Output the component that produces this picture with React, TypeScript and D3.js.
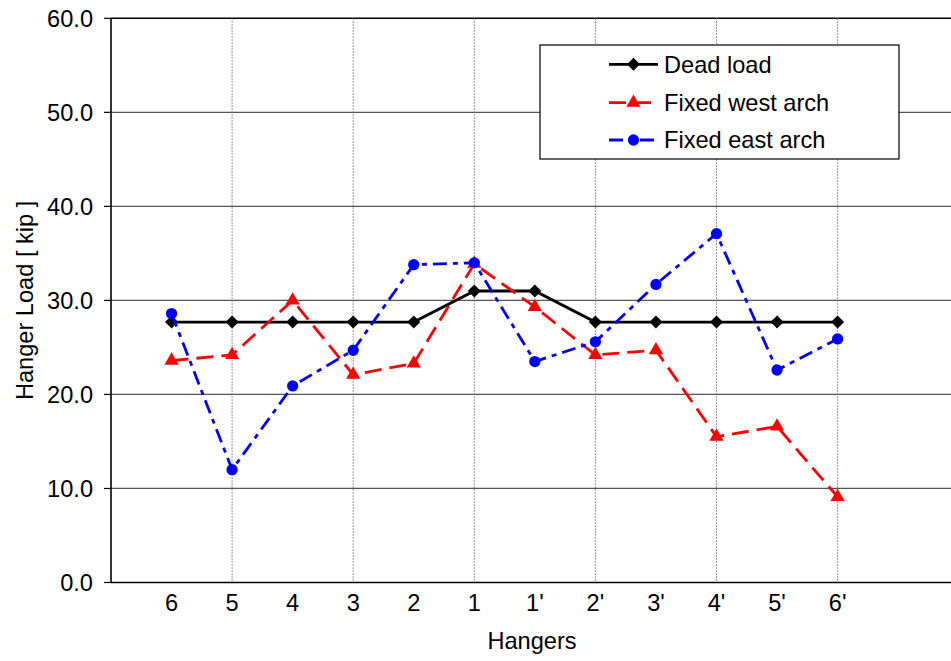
import React from "react";
import * as d3 from "d3";

const hangers = ["6", "5", "4", "3", "2", "1", "1'", "2'", "3'", "4'", "5'", "6'"];
const deadLoad = [27.7, 27.7, 27.7, 27.7, 27.7, 31.0, 31.0, 27.7, 27.7, 27.7, 27.7, 27.7];
const fixedWest = [23.6, 24.2, 30.0, 22.1, 23.3, 33.9, 29.3, 24.2, 24.7, 15.5, 16.6, 9.1];
const fixedEast = [28.6, 12.0, 20.9, 24.7, 33.8, 34.0, 23.5, 25.6, 31.7, 37.1, 22.6, 25.9];
const yTicks = [0, 10, 20, 30, 40, 50, 60];
const seriesNames = ["Dead load", "Fixed west arch", "Fixed east arch"];

const W = 951;
const H = 661;
const M = { left: 111, top: 18.3, bottom: 582.5 };
const FONT = "'Liberation Sans', Arial, sans-serif";
const FS = 23.6;

export default function App() {
  const x = d3.scaleLinear().domain([0, 14]).range([M.left, M.left + 14 * 60.55]);
  const y = d3.scaleLinear().domain([0, 60]).range([M.bottom, M.top]);
  const pos = hangers.map((_, i) => i + 1);
  const line = d3
    .line<number>()
    .x((_, i) => x(pos[i]))
    .y((d) => y(d));

  const series = [
    { name: seriesNames[0], values: deadLoad, color: "#000000", dash: null as string | null, symbol: d3.symbolSquare, size: 85, rotate: 45 },
    { name: seriesNames[1], values: fixedWest, color: "#FF0000", dash: "17,8", symbol: d3.symbolTriangle, size: 88, rotate: 0 },
    { name: seriesNames[2], values: fixedEast, color: "#0000FF", dash: "14,6,5,6", symbol: d3.symbolCircle, size: 100, rotate: 0 },
  ];

  const vGrid = pos.filter((p) => p % 2 === 0);
  const legend = { x: 540, y: 45, w: 359, h: 114, rowY: [64.3, 102.7, 140], lx0: 609, lx1: 658, tx: 664 };

  return (
    <div style={{ position: "absolute", left: 0, top: 0 }}>
      <svg width={W} height={H} style={{ display: "block", background: "#fff" }} fontFamily={FONT}>
        <rect x={0} y={0} width={W} height={H} fill="#fff" />
        {yTicks.map((t) => (
          <line
            key={"h" + t}
            x1={M.left}
            x2={W}
            y1={y(t)}
            y2={y(t)}
            stroke={t === 0 || t === 60 ? "#000" : "#555"}
            strokeWidth={t === 0 || t === 60 ? 1.6 : 1.2}
          />
        ))}
        {vGrid.map((p) => (
          <line
            key={"v" + p}
            x1={x(p)}
            x2={x(p)}
            y1={M.top}
            y2={M.bottom}
            stroke="#777"
            strokeWidth={1}
            strokeDasharray="1.5,1.5"
          />
        ))}
        <line x1={M.left} x2={M.left} y1={M.top} y2={M.bottom} stroke="#000" strokeWidth={1.6} />
        {yTicks.map((t) => (
          <g key={"yt" + t}>
            <line x1={M.left - 7} x2={M.left} y1={y(t)} y2={y(t)} stroke="#000" strokeWidth={1.2} />
            <text x={93} y={y(t)} dy="0.36em" textAnchor="end" fontSize={FS} fill="#000">
              {t.toFixed(1)}
            </text>
          </g>
        ))}
        {hangers.map((h, i) => (
          <text key={"xl" + i} x={x(pos[i])} y={611} textAnchor="middle" fontSize={FS} fill="#000">
            {h}
          </text>
        ))}
        <text x={532} y={649} textAnchor="middle" fontSize={FS} fill="#000">
          Hangers
        </text>
        <text
          transform={`translate(33, ${(M.top + M.bottom) / 2}) rotate(-90)`}
          textAnchor="middle"
          fontSize={FS}
          fill="#000"
        >
          Hanger Load [ kip ]
        </text>
        {series.map((s) => (
          <g key={s.name}>
            <path
              d={line(s.values) || ""}
              fill="none"
              stroke={s.color}
              strokeWidth={2.8}
              strokeDasharray={s.dash || undefined}
            />
            {s.values.map((v, i) => (
              <path
                key={i}
                d={d3.symbol().type(s.symbol).size(s.size)() || ""}
                transform={`translate(${x(pos[i])},${y(v)}) rotate(${s.rotate})`}
                fill={s.color}
              />
            ))}
          </g>
        ))}
        <rect x={legend.x} y={legend.y} width={legend.w} height={legend.h} fill="#fff" stroke="#000" strokeWidth={1.2} />
        {series.map((s, i) => (
          <g key={"lg" + i}>
            <line
              x1={legend.lx0}
              x2={legend.lx1}
              y1={legend.rowY[i]}
              y2={legend.rowY[i]}
              stroke={s.color}
              strokeWidth={2.8}
              strokeDasharray={s.dash || undefined}
            />
            <path
              d={d3.symbol().type(s.symbol).size(s.size)() || ""}
              transform={`translate(${(legend.lx0 + legend.lx1) / 2},${legend.rowY[i]}) rotate(${s.rotate})`}
              fill={s.color}
            />
            <text x={legend.tx} y={legend.rowY[i]} dy="0.36em" fontSize={FS} fill="#000">
              {s.name}
            </text>
          </g>
        ))}
      </svg>
    </div>
  );
}
